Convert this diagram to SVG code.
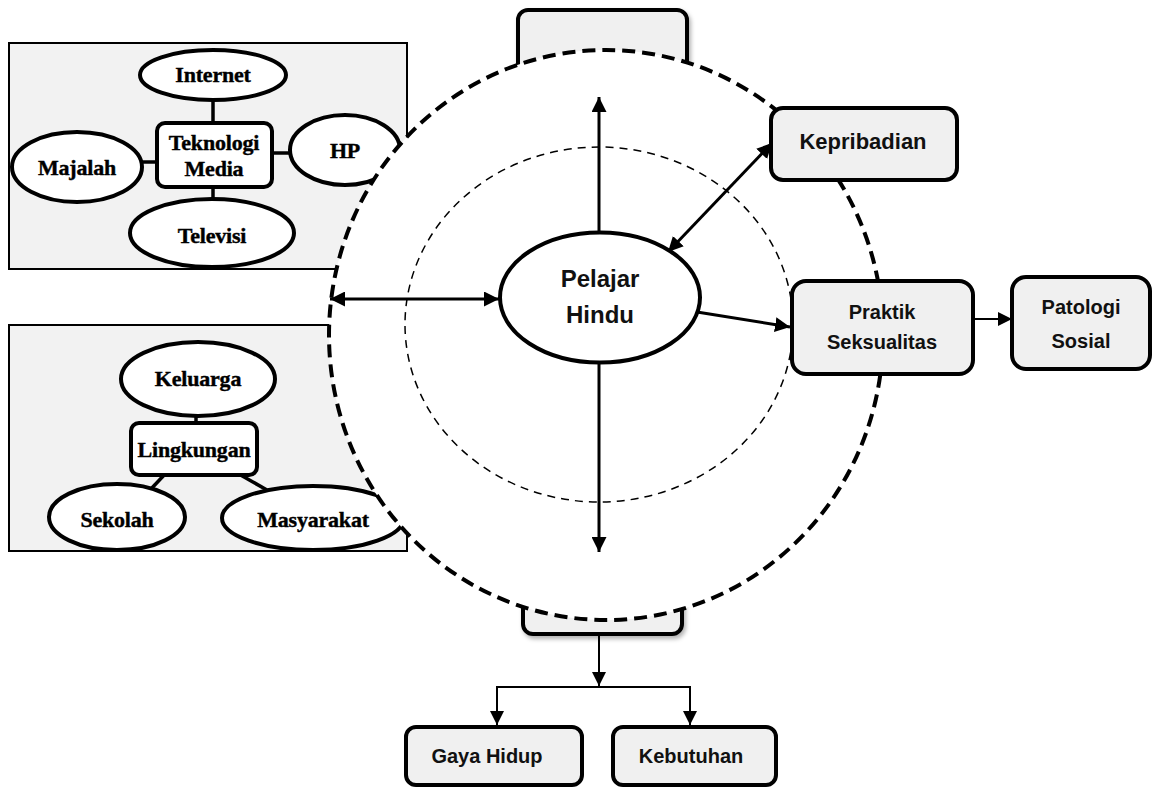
<svg xmlns="http://www.w3.org/2000/svg" width="1152" height="787" viewBox="0 0 1152 787">
<style>
.panel{fill:#f2f2f2;stroke:#000;stroke-width:2}
.oval{fill:#fff;stroke:#000;stroke-width:4}
.sbox{fill:#fff;stroke:#000;stroke-width:4}
.box{fill:#f0f0f0;stroke:#000;stroke-width:4}
.serif{font-family:"Liberation Serif","Times New Roman",serif;font-weight:bold;font-size:22px;text-anchor:middle;fill:#000;letter-spacing:-0.2px;stroke:#000;stroke-width:0.4}
.sans{font-family:"Liberation Sans",Arial,sans-serif;font-weight:bold;text-anchor:middle;fill:#111}
.link{stroke:#000;stroke-width:3.5;fill:none}
.arr{stroke:#000;stroke-width:3;fill:none}
.thin{stroke:#000;stroke-width:2;fill:none}
</style>
<defs>
<marker id="ah" viewBox="0 0 10 10" refX="10" refY="5" markerUnits="userSpaceOnUse" markerWidth="15" markerHeight="15" orient="auto-start-reverse"><path d="M0,0 L10,5 L0,10 Z" fill="#000"/></marker>
<marker id="ah2" viewBox="0 0 10 10" refX="10" refY="5" markerUnits="userSpaceOnUse" markerWidth="15" markerHeight="14" orient="auto"><path d="M0,0 L10,5 L0,10 Z" fill="#000"/></marker>
<filter id="sh" x="-10%" y="-10%" width="130%" height="140%"><feDropShadow dx="2" dy="3" stdDeviation="2" flood-color="#000" flood-opacity="0.3"/></filter>
</defs>

<g id="panel-teknologi">
<rect class="panel" x="9" y="43" width="398" height="226"/>
</g>
<g id="panel-lingkungan">
<rect class="panel" x="9" y="325" width="398" height="226"/>
</g>

<g id="teknologi-links">
<line class="link" x1="213" y1="98" x2="213" y2="125"/>
<line class="link" x1="270" y1="153" x2="292" y2="153"/>
<line class="link" x1="141" y1="162" x2="159" y2="162"/>
<line class="link" x1="213" y1="185" x2="213" y2="201"/>
</g>
<g id="node-internet"><ellipse class="oval" cx="213" cy="75" rx="73" ry="25"/><text class="serif" x="213" y="82">Internet</text></g>
<g id="node-teknologi"><rect class="sbox" x="157" y="123" width="115" height="64" rx="8"/><text class="serif" x="214" y="150">Teknologi</text><text class="serif" x="214" y="176">Media</text></g>
<g id="node-hp"><ellipse class="oval" cx="345" cy="150" rx="55" ry="35"/><text class="serif" x="345" y="158">HP</text></g>
<g id="node-majalah"><ellipse class="oval" cx="77" cy="167" rx="65" ry="35"/><text class="serif" x="77" y="175">Majalah</text></g>
<g id="node-televisi"><ellipse class="oval" cx="212" cy="233" rx="82" ry="34"/><text class="serif" x="212" y="243">Televisi</text></g>

<g id="lingkungan-links">
<line class="link" x1="196" y1="415" x2="196" y2="425"/>
<line class="link" x1="167" y1="472" x2="150" y2="490"/>
<line class="link" x1="230" y1="469" x2="267" y2="490"/>
</g>
<g id="node-keluarga"><ellipse class="oval" cx="198" cy="379" rx="77" ry="37"/><text class="serif" x="198" y="386">Keluarga</text></g>
<g id="node-lingkungan"><rect class="sbox" x="131" y="423" width="126" height="52" rx="8"/><text class="serif" x="194" y="457">Lingkungan</text></g>
<g id="node-sekolah"><ellipse class="oval" cx="117" cy="517" rx="68" ry="33"/><text class="serif" x="117" y="527">Sekolah</text></g>
<g id="node-masyarakat"><ellipse class="oval" cx="313" cy="518" rx="91" ry="32"/><text class="serif" x="313" y="527">Masyarakat</text></g>

<g id="node-top-box"><rect x="518" y="10" width="169" height="110" rx="10" fill="#f0f0f0" stroke="#000" stroke-width="4" filter="url(#sh)"/></g>
<g id="node-bottom-box"><rect x="523" y="540" width="159" height="94" rx="10" fill="#f0f0f0" stroke="#000" stroke-width="4" filter="url(#sh)"/></g>

<g id="circles">
<ellipse cx="606" cy="335" rx="277" ry="285" fill="#fff" stroke="#000" stroke-width="4" stroke-dasharray="13 7"/>
<ellipse cx="599" cy="324.5" rx="194" ry="177.5" fill="none" stroke="#000" stroke-width="1.5" stroke-dasharray="8 6"/>
</g>

<g id="connectors">
<line class="arr" x1="599" y1="232" x2="599" y2="97" marker-end="url(#ah)"/>
<line class="arr" x1="599" y1="363" x2="599" y2="552" marker-end="url(#ah)"/>
<line class="arr" x1="330" y1="299" x2="499" y2="299" marker-start="url(#ah)" marker-end="url(#ah)"/>
<line class="arr" x1="668" y1="252" x2="772" y2="143" marker-start="url(#ah)" marker-end="url(#ah)"/>
<line class="arr" x1="697" y1="312" x2="790" y2="327" marker-end="url(#ah)"/>
<line class="thin" x1="973" y1="319" x2="1012" y2="319" marker-end="url(#ah2)"/>
<line class="thin" x1="599" y1="634" x2="599" y2="686" marker-end="url(#ah2)"/>
<line class="thin" x1="496" y1="687" x2="691" y2="687"/>
<line class="thin" x1="497" y1="686" x2="497" y2="725" marker-end="url(#ah2)"/>
<line class="thin" x1="690" y1="686" x2="690" y2="725" marker-end="url(#ah2)"/>
</g>

<g id="node-pelajar"><ellipse cx="600" cy="297.5" rx="100" ry="65" fill="#fff" stroke="#000" stroke-width="4"/><text class="sans" font-size="24" x="600" y="287">Pelajar</text><text class="sans" font-size="24" x="600" y="323">Hindu</text></g>
<g id="node-kepribadian"><rect class="box" x="771" y="108" width="186" height="72" rx="12"/><text class="sans" font-size="22" x="863" y="149">Kepribadian</text></g>
<g id="node-praktik"><rect class="box" x="792" y="281" width="181" height="93" rx="14"/><text class="sans" font-size="20" x="882" y="319">Praktik</text><text class="sans" font-size="20" x="882" y="349">Seksualitas</text></g>
<g id="node-patologi"><rect class="box" x="1012" y="277" width="138" height="92" rx="14"/><text class="sans" font-size="20" x="1081" y="314">Patologi</text><text class="sans" font-size="20" x="1081" y="348">Sosial</text></g>
<g id="node-gaya"><rect class="box" x="406" y="727" width="176" height="58" rx="10"/><text class="sans" font-size="20" x="487" y="763">Gaya Hidup</text></g>
<g id="node-kebutuhan"><rect class="box" x="613" y="727" width="163" height="58" rx="10"/><text class="sans" font-size="20" x="691" y="763">Kebutuhan</text></g>
</svg>
